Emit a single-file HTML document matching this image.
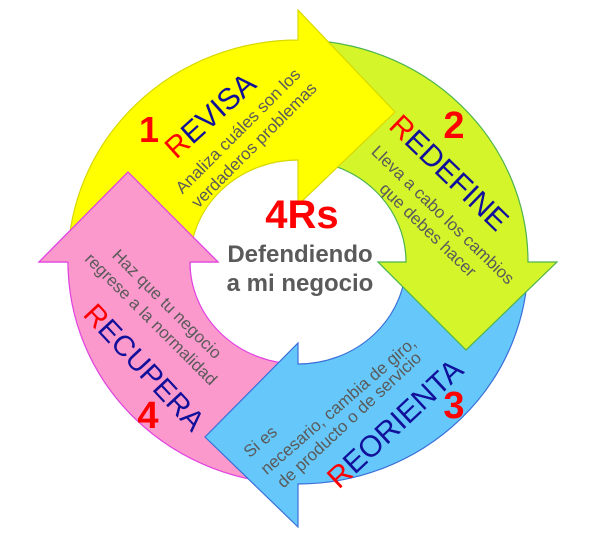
<!DOCTYPE html>
<html><head><meta charset="utf-8"><style>
html,body{margin:0;padding:0;background:#fff;}
svg{display:block;}
text{font-family:"Liberation Sans",Arial,sans-serif;}
</style></head><body>
<svg width="602" height="545" viewBox="0 0 602 545" xmlns="http://www.w3.org/2000/svg">
<!-- pink -->
<path d="M298,484 A230,222 0 0 1 68,262 L39,262 L128,172 L218,262 L190,262 A108,102 0 0 0 298,364 Z" fill="#fc99cc" stroke="#e040e0" stroke-width="1.2"/>
<!-- blue -->
<path d="M528,262 A230,222 0 0 1 298,484 L298,527 L205,437 L298,343 L298,364 A108,102 0 0 0 406,262 Z" fill="#66c8fa" stroke="#3a6fd8" stroke-width="1.2"/>
<!-- green -->
<path d="M298,40 A230,222 0 0 1 528,262 L557,262 L466,350 L378,262 L406,262 A108,102 0 0 0 298,160 Z" fill="#d4f52a" stroke="#4db34d" stroke-width="1.2"/>
<!-- yellow -->
<path d="M68,262 A230,222 0 0 1 298,40 L298,10 L395,112 L298,205 L298,160 A108,102 0 0 0 190,262 Z" fill="#ffff00" stroke="#d8d800" stroke-width="1.2"/>
<!-- pink head overlay -->
<polygon points="68,268 68,262 39,262 128,172 218,262 190,262 190,268" fill="#fc99cc"/>
<polyline points="68,262 39,262 128,172 218,262 190,262" fill="none" stroke="#e040e0" stroke-width="1.2"/>
<line x1="68" y1="262" x2="68" y2="270" stroke="#e040e0" stroke-width="1.2"/>
<line x1="190" y1="262" x2="190" y2="270" stroke="#e040e0" stroke-width="1.2"/>

<!-- center -->
<text x="302" y="228" text-anchor="middle" font-size="40" font-weight="bold" fill="#ff0000">4Rs</text>
<text x="300" y="262" text-anchor="middle" font-size="24" font-weight="bold" fill="#5a5a5a">Defendiendo</text>
<text x="300" y="291" text-anchor="middle" font-size="24" font-weight="bold" fill="#5a5a5a">a mi negocio</text>

<!-- numbers -->
<text x="149" y="142" text-anchor="middle" font-size="36" font-weight="bold" fill="#ff0000">1</text>
<text x="454" y="138" text-anchor="middle" font-size="38" font-weight="bold" fill="#ff0000">2</text>
<text x="454" y="418" text-anchor="middle" font-size="38" font-weight="bold" fill="#ff0000">3</text>
<text x="148" y="428" text-anchor="middle" font-size="38" font-weight="bold" fill="#ff0000">4</text>

<!-- REVISA -->
<text transform="translate(217,123) rotate(-42)" text-anchor="middle" font-size="30" fill="#10109a"><tspan fill="#ff0000">R</tspan>EVISA</text>
<text transform="translate(242,135) rotate(-45)" text-anchor="middle" font-size="17" fill="#5a5a5a">Analiza cuáles son los</text>
<text transform="translate(258,149) rotate(-45)" text-anchor="middle" font-size="17" fill="#5a5a5a">verdaderos problemas</text>

<!-- REDEFINE -->
<text transform="translate(442,180) rotate(44)" text-anchor="middle" font-size="30" fill="#10109a"><tspan fill="#ff0000">R</tspan>EDEFINE</text>
<text transform="translate(439,219) rotate(44)" text-anchor="middle" font-size="17" fill="#5a5a5a">Lleva a cabo los cambios</text>
<text transform="translate(424,234) rotate(44)" text-anchor="middle" font-size="17" fill="#5a5a5a">que debes hacer</text>

<!-- REORIENTA -->
<text transform="translate(402,431) rotate(-43)" text-anchor="middle" font-size="30" fill="#10109a"><tspan fill="#ff0000">R</tspan>EORIENTA</text>
<text transform="translate(264,446) rotate(-41)" text-anchor="middle" font-size="17" fill="#5a5a5a">Si es</text>
<text transform="translate(342,410) rotate(-41)" text-anchor="middle" font-size="17" fill="#5a5a5a">necesario, cambia de giro,</text>
<text transform="translate(353,424) rotate(-43)" text-anchor="middle" font-size="17" fill="#5a5a5a">de producto o de servicio</text>

<!-- RECUPERA -->
<text transform="translate(137,374) rotate(47)" text-anchor="middle" font-size="29" fill="#10109a"><tspan fill="#ff0000">R</tspan>ECUPERA</text>
<text transform="translate(163,308) rotate(45)" text-anchor="middle" font-size="17" fill="#5a5a5a">Haz que tu negocio</text>
<text transform="translate(147,323) rotate(45)" text-anchor="middle" font-size="17" fill="#5a5a5a">regrese a la normalidad</text>
</svg>
</body></html>
